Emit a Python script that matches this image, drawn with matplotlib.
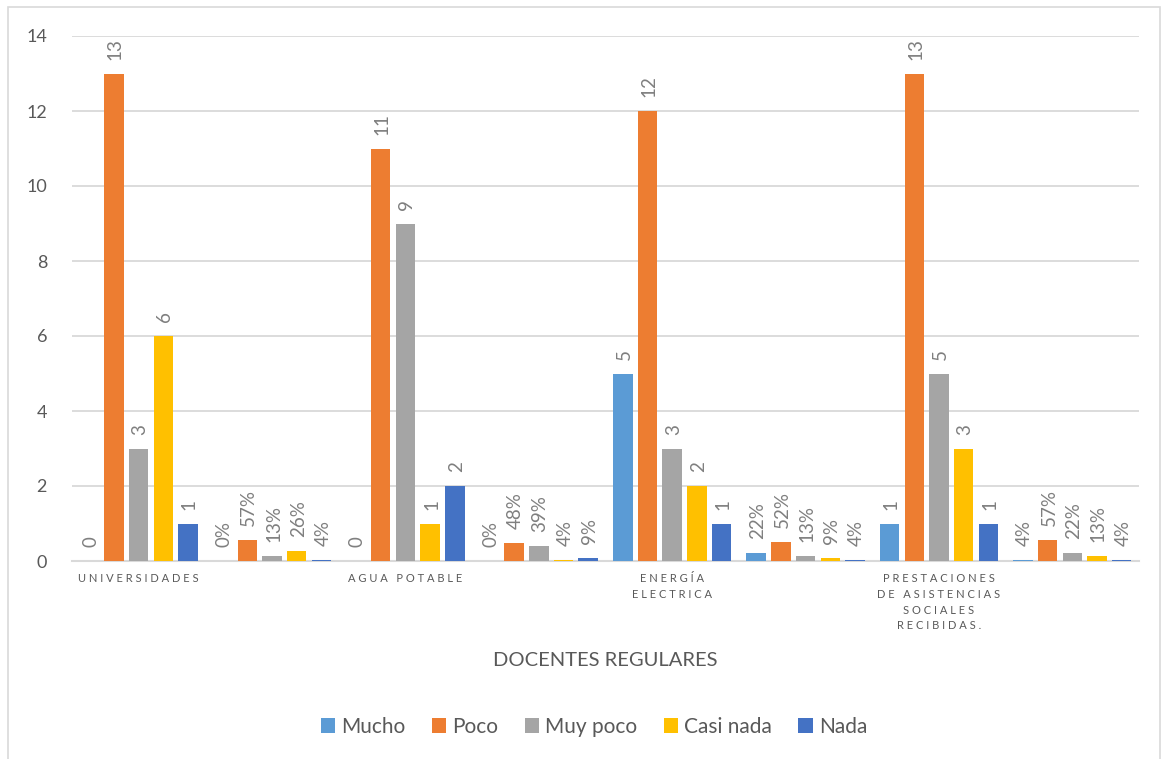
import matplotlib.pyplot as plt
import numpy as np
from matplotlib.patches import Rectangle

plt.rcParams['font.family'] = ['Lato', 'DejaVu Sans']

# Data
categories = ['UNIVERSIDADES', '', 'AGUA POTABLE', '', 'ENERGÍA\nELECTRICA', '',
              'PRESTACIONES\nDE ASISTENCIAS\nSOCIALES\nRECIBIDAS.', '']
series = ['Mucho', 'Poco', 'Muy poco', 'Casi nada', 'Nada']
colors = ['#5B9BD5', '#ED7D31', '#A5A5A5', '#FFC000', '#4472C4']

# counts per category group (Mucho, Poco, Muy poco, Casi nada, Nada)
universidades = [0, 13, 3, 6, 1]
agua_potable = [0, 11, 9, 1, 2]
energia = [5, 12, 3, 2, 1]
prestaciones = [1, 13, 5, 3, 1]
# percentages that follow each group
universidades_pct = [0, 57, 13, 26, 4]
agua_potable_pct = [0, 48, 39, 4, 9]
energia_pct = [22, 52, 13, 9, 4]
prestaciones_pct = [4, 57, 22, 13, 4]

counts = [universidades, agua_potable, energia, prestaciones]
pcts = [universidades_pct, agua_potable_pct, energia_pct, prestaciones_pct]

# build 8 slots: count group, then pct group
values = []
labels = []
for c, p in zip(counts, pcts):
    values.append([float(v) for v in c])
    labels.append([str(v) for v in c])
    values.append([v / 100 for v in p])
    labels.append([f'{v}%' for v in p])
values = np.array(values)  # shape (8, 5)


def spaced(text):
    # imitate Excel's letter spacing on category labels
    lines = []
    for line in text.split('\n'):
        words = [' '.join(w) for w in line.split(' ')]
        lines.append('   '.join(words))
    return '\n'.join(lines)


fig = plt.figure(figsize=(11.65, 7.59), dpi=100)
ax = fig.add_axes([72 / 1165, 1 - 561 / 759, (1139 - 72) / 1165, (561 - 36) / 759])

x = np.arange(len(categories))
step = 0.185
width = 0.146
for i, (name, col) in enumerate(zip(series, colors)):
    pos = x + (i - 2) * step
    bars = ax.bar(pos, values[:, i], width=width, color=col, label=name, zorder=3)
    for b, txt in zip(bars, [row[i] for row in labels]):
        ax.annotate(txt, (b.get_x() + b.get_width() / 2, b.get_height()),
                    xytext=(1, 10), textcoords='offset points',
                    rotation=90, ha='center', va='bottom',
                    fontsize=13.5, color='#7f7f7f')

ax.set_xlim(-0.5, len(categories) - 0.5)
ax.set_ylim(0, 14)
ax.set_yticks(np.arange(0, 15, 2))
ax.yaxis.grid(True, color='#d9d9d9', lw=1.3, zorder=0)
ax.set_axisbelow(True)
for s in ['top', 'right', 'left']:
    ax.spines[s].set_visible(False)
ax.spines['bottom'].set_color('#d9d9d9')
ax.spines['bottom'].set_linewidth(1.5)
ax.tick_params(axis='y', length=0, pad=18, labelsize=13, labelcolor='#595959')
ax.tick_params(axis='x', length=0, pad=9)
ax.set_xticks(x)
ax.set_xticklabels([spaced(c) for c in categories], fontsize=8,
                   color='#595959', va='top', linespacing=1.5)

ax.set_xlabel('DOCENTES REGULARES', fontsize=14.5, color='#595959', labelpad=15)

ax.legend(loc='center', bbox_to_anchor=(594 / 1165, 1 - 727 / 759),
          bbox_transform=fig.transFigure, ncol=5, frameon=False,
          fontsize=15, labelcolor='#595959', handlelength=0.7, handleheight=0.7,
          handletextpad=0.3, columnspacing=1.25)

# light chart border
fig.add_artist(Rectangle((8 / 1165, -0.01), (1160 - 8) / 1165, 1 - 7 / 759 + 0.01,
                         transform=fig.transFigure, fill=False,
                         edgecolor='#d9d9d9', lw=1.2))

fig.savefig('out.png', dpi=100)
